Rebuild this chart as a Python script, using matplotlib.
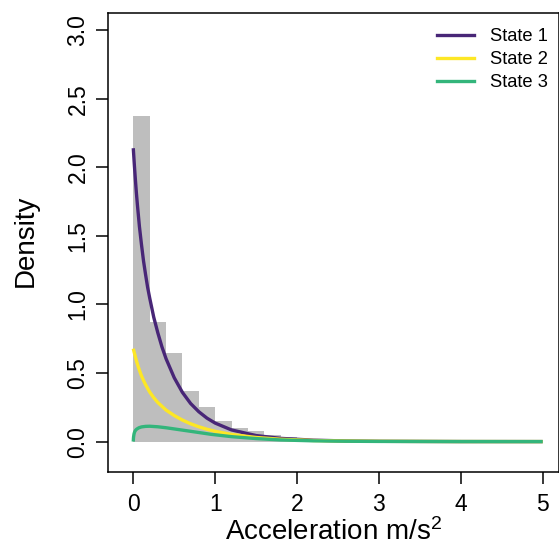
import matplotlib
matplotlib.use("Agg")
import matplotlib.pyplot as plt
from matplotlib.lines import Line2D
import numpy as np

plt.rcParams['font.family'] = ['Liberation Sans', 'DejaVu Sans']
plt.rcParams['mathtext.fontset'] = 'custom'
plt.rcParams['mathtext.rm'] = 'Liberation Sans'
plt.rcParams['mathtext.it'] = 'Liberation Sans:italic'

# Histogram (density)
hist_edges = [0.0, 0.2, 0.4, 0.6, 0.8, 1.0, 1.2, 1.4, 1.6, 1.8, 2.0, 2.2,
              2.4, 2.6, 2.8, 3.0, 3.2]
hist_density = [2.377, 0.873, 0.646, 0.371, 0.249, 0.149, 0.102, 0.075,
                0.049, 0.031, 0.020, 0.012, 0.008, 0.005, 0.003, 0.002]

# State density curves
s1_x = [0.0, 0.0125, 0.025, 0.0375, 0.05, 0.075, 0.1, 0.125, 0.15, 0.175, 0.2,
        0.25, 0.3, 0.35, 0.4, 0.5, 0.6, 0.7, 0.8, 0.9, 1.0,
        1.2, 1.5, 1.8, 2.2, 2.6, 3.0, 4.0, 5.0]
s1_y = [2.14, 2.024, 1.917, 1.818, 1.73, 1.569, 1.438, 1.318, 1.219, 1.126, 1.049,
        0.907, 0.793, 0.691, 0.605, 0.466, 0.359, 0.278, 0.218, 0.171, 0.135,
        0.085, 0.044, 0.0235, 0.0104, 0.0046, 0.002, 0.0003, 0.00005]

s2_x = [0.0, 0.0125, 0.025, 0.0375, 0.05, 0.075, 0.1, 0.125, 0.15, 0.2, 0.25,
        0.3, 0.4, 0.5, 0.6, 0.7, 0.8, 0.9, 1.0,
        1.2, 1.5, 1.8, 2.2, 2.6, 3.0, 4.0, 5.0]
s2_y = [0.678, 0.648, 0.62, 0.592, 0.566, 0.521, 0.48, 0.446, 0.415, 0.362, 0.32,
        0.285, 0.23, 0.19, 0.157, 0.13, 0.108, 0.09, 0.075,
        0.052, 0.030, 0.017, 0.008, 0.004, 0.002, 0.0004, 0.0001]

s3_x = [0.0, 0.002, 0.004, 0.007, 0.01, 0.015, 0.02, 0.03, 0.04, 0.055, 0.07,
        0.1, 0.15, 0.2, 0.3, 0.4, 0.55, 0.7, 0.95, 1.2, 1.5, 1.8, 2.2, 2.6,
        3.0, 4.0, 5.0]
s3_y = [0.0, 0.024, 0.036, 0.048, 0.058, 0.068, 0.075, 0.084, 0.090, 0.096, 0.101,
        0.107, 0.111, 0.112, 0.108, 0.101, 0.088, 0.075, 0.053, 0.036, 0.022,
        0.012, 0.0055, 0.0025, 0.0011, 0.0002, 0.0]

state_labels = ["State 1", "State 2", "State 3"]
state_colors = ["#482677", "#FDE725", "#33B57B"]

x_ticks = [0, 1, 2, 3, 4, 5]
y_ticks = [0.0, 0.5, 1.0, 1.5, 2.0, 2.5, 3.0]

W, H = 559, 556
fig = plt.figure(figsize=(W / 100, H / 100), dpi=100)
ax = fig.add_axes([108.3 / W, (H - 472.3) / H, (558.5 - 108.3) / W, (472.3 - 13.3) / H])

ax.stairs(hist_density, hist_edges, fill=True, color="#BEBEBE", linewidth=0)

for xs, ys, c in zip([s1_x, s2_x, s3_x], [s1_y, s2_y, s3_y], state_colors):
    ax.plot(xs, ys, color=c, lw=2.4, solid_capstyle='butt', solid_joinstyle='round')

ax.set_xlim(-0.305, 5.193)
ax.set_ylim(-0.224, 3.124)
ax.set_xticks(x_ticks)
ax.set_xticklabels([str(v) for v in x_ticks])
ax.set_yticks(y_ticks)
ax.set_yticklabels([f"{v:.1f}" for v in y_ticks])

for sp in ax.spines.values():
    sp.set_linewidth(1.1)
    sp.set_color("black")
ax.tick_params(axis='both', direction='out', length=8.5, width=1.1,
               labelsize=16.5, colors='black')
ax.tick_params(axis='x', pad=6.5)
ax.tick_params(axis='y', pad=5, labelrotation=90)
for lab in ax.get_yticklabels():
    lab.set_va('center')

fig.text(334 / W, 16 / H, r"Acceleration m/s$^{\mathrm{2}}$", ha='center',
         va='baseline', fontsize=20)
fig.text(26 / W, (H - 241) / H, "Density", rotation=90, ha='center',
         va='center', fontsize=20)

handles = [Line2D([0], [0], color=c, lw=2.4) for c in state_colors]
fig.legend(handles, state_labels, loc='upper left',
           bbox_to_anchor=(437 / W, (H - 28) / H), frameon=False,
           fontsize=13.2, handlelength=2.0, handletextpad=0.9,
           labelspacing=0.33, borderpad=0, borderaxespad=0)

fig.savefig("out.png", dpi=100)
